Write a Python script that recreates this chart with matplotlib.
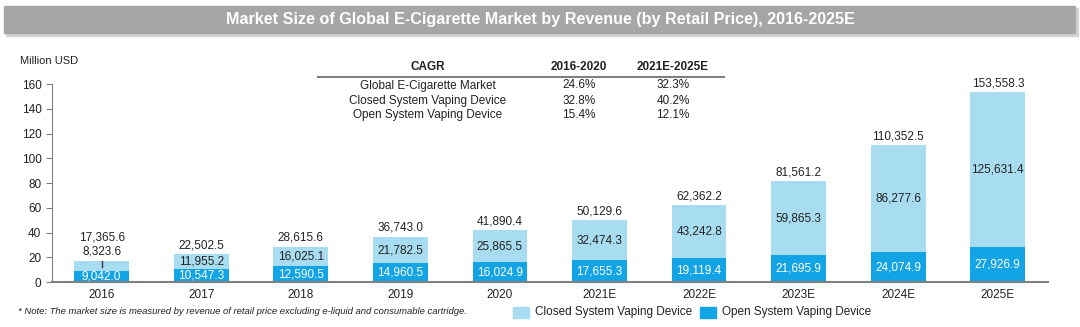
import matplotlib.pyplot as plt
from matplotlib.patches import Rectangle
import numpy as np

# DATA ------------------------------------------------------------------------
years = ['2016', '2017', '2018', '2019', '2020',
         '2021E', '2022E', '2023E', '2024E', '2025E']
open_sys = [9042.0, 10547.3, 12590.5, 14960.5, 16024.9,
            17655.3, 19119.4, 21695.9, 24074.9, 27926.9]
closed_sys = [8323.6, 11955.2, 16025.1, 21782.5, 25865.5,
              32474.3, 43242.8, 59865.3, 86277.6, 125631.4]
total = [17365.6, 22502.5, 28615.6, 36743.0, 41890.4,
         50129.6, 62362.2, 81561.2, 110352.5, 153558.3]

cagr_rows = ['Global E-Cigarette Market', 'Closed System Vaping Device',
             'Open System Vaping Device']
cagr_hist = ['24.6%', '32.8%', '15.4%']
cagr_fcst = ['32.3%', '40.2%', '12.1%']
# END DATA --------------------------------------------------------------------

c_closed = '#a8dcf1'
c_open = '#13a4e5'
txt = '#222222'
fs = 8.5
plt.rcParams['font.family'] = ['Liberation Sans', 'DejaVu Sans']

fig = plt.figure(figsize=(10.8, 3.27), dpi=100)
ax = fig.add_axes([0.048, 0.1376, 0.922, 0.6054])

x = np.arange(len(years))
o = np.array(open_sys) / 1000.
c = np.array(closed_sys) / 1000.
t = np.array(total) / 1000.

ax.bar(x, o, width=0.55, color=c_open, zorder=2)
ax.bar(x, c, width=0.55, bottom=o, color=c_closed, zorder=2)

for i in range(len(years)):
    ax.text(x[i], o[i] / 2, '{:,.1f}'.format(open_sys[i]), ha='center',
            va='center', color='white', fontsize=fs)
    if i == 0:
        # closed segment too small: label above with leader line
        ax.annotate('{:,.1f}'.format(closed_sys[i]), (x[i], t[i]),
                    xytext=(0, 6.3), textcoords='offset points',
                    ha='center', va='center', color=txt, fontsize=fs)
        ax.annotate('{:,.1f}'.format(total[i]), (x[i], t[i]),
                    xytext=(0, 16.5), textcoords='offset points',
                    ha='center', va='center', color=txt, fontsize=fs)
        ax.plot([x[i], x[i]], [o[i] + c[i] * 0.37, t[i] - 0.6],
                color='#333333', lw=1, zorder=3)
    else:
        ax.text(x[i], o[i] + c[i] / 2, '{:,.1f}'.format(closed_sys[i]),
                ha='center', va='center', color=txt, fontsize=fs)
        ax.annotate('{:,.1f}'.format(total[i]), (x[i], t[i]),
                    xytext=(0, 6.3), textcoords='offset points',
                    ha='center', va='center', color=txt, fontsize=fs)

ax.set_xlim(-0.5, len(years) - 0.5)
ax.set_ylim(0, 160)
ax.set_yticks(range(0, 161, 20))
ax.set_xticks(x)
ax.set_xticklabels(years)
for s in ['top', 'right']:
    ax.spines[s].set_visible(False)
ax.spines['left'].set_color('#808080')
ax.spines['bottom'].set_color('#808080')
ax.spines['bottom'].set_linewidth(1.5)
ax.tick_params(axis='x', length=0, labelsize=fs, colors=txt, pad=5)
ax.tick_params(axis='y', length=4, color='#808080', labelsize=fs,
               labelcolor=txt)

fig.text(20 / 1080, 1 - 61 / 327, 'Million USD', fontsize=8, color=txt,
         va='center')

# title bar
fig.patches.append(Rectangle((6 / 1080, 1 - 36 / 327), 1072 / 1080,
                             28 / 327, transform=fig.transFigure,
                             color='#d3d3d3', zorder=0))
fig.patches.append(Rectangle((4 / 1080, 1 - 33 / 327), 1071 / 1080,
                             27 / 327, transform=fig.transFigure,
                             color='#a6a6a6', zorder=1))
fig.text(0.5, 1 - 19.5 / 327,
         'Market Size of Global E-Cigarette Market by Revenue (by Retail Price), 2016-2025E',
         ha='center', va='center', color='white', fontsize=11.6,
         fontweight='bold')

# CAGR table
def fy(py):
    return 1 - py / 327.
fig.text(428 / 1080, fy(67), 'CAGR', ha='center', va='center',
         fontsize=8.5, fontweight='bold', color=txt)
fig.text(579 / 1080, fy(67), '2016-2020', ha='center', va='center',
         fontsize=8.5, fontweight='bold', color=txt)
fig.text(673 / 1080, fy(67), '2021E-2025E', ha='center', va='center',
         fontsize=8.5, fontweight='bold', color=txt)
fig.add_artist(plt.Line2D([318 / 1080, 724 / 1080], [fy(77.5), fy(77.5)],
                          color='#808080', lw=1.5))
for k, row_y in enumerate([85.5, 100.5, 115]):
    fig.text(428 / 1080, fy(row_y), cagr_rows[k], ha='center', va='center',
             fontsize=8.5, color=txt)
    fig.text(579 / 1080, fy(row_y), cagr_hist[k], ha='center', va='center',
             fontsize=8.5, color=txt)
    fig.text(673 / 1080, fy(row_y), cagr_fcst[k], ha='center', va='center',
             fontsize=8.5, color=txt)

# legend
fig.patches.append(Rectangle((513 / 1080, fy(318)), 16 / 1080, 11 / 327,
                             transform=fig.transFigure, color=c_closed))
fig.text(535 / 1080, fy(312.5), 'Closed System Vaping Device', va='center',
         fontsize=8.5, color=txt)
fig.patches.append(Rectangle((700 / 1080, fy(318)), 16 / 1080, 11 / 327,
                             transform=fig.transFigure, color=c_open))
fig.text(722 / 1080, fy(312.5), 'Open System Vaping Device', va='center',
         fontsize=8.5, color=txt)

fig.text(18 / 1080, fy(312),
         '* Note: The market size is measured by revenue of retail price excluding e-liquid and consumable cartridge.',
         va='center', fontsize=6.8, style='italic', color=txt)

fig.savefig('out.png', dpi=100)
